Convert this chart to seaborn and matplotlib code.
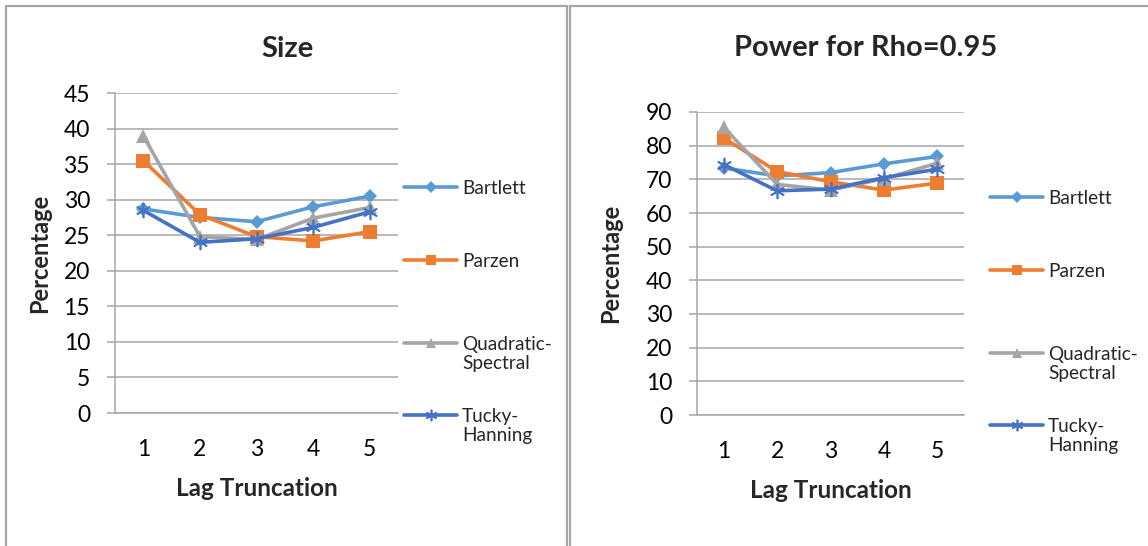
import matplotlib
matplotlib.use("Agg")
import matplotlib.pyplot as plt
from matplotlib.lines import Line2D
from matplotlib.patches import Rectangle
import seaborn as sns
import pandas as pd

sns.set_theme(style="white")
plt.rcParams['font.family'] = ['Lato', 'DejaVu Sans']

lags = [1, 2, 3, 4, 5]
series_names = ["Bartlett", "Parzen", "Quadratic-Spectral", "Tucky-Hanning"]
legend_labels = [["Bartlett"], ["Parzen"], ["Quadratic-", "Spectral"], ["Tucky-", "Hanning"]]

size_bartlett = [28.7, 27.5, 26.9, 29.0, 30.5]
size_parzen = [35.5, 27.9, 24.8, 24.2, 25.5]
size_qs = [39.0, 24.8, 24.4, 27.4, 28.9]
size_th = [28.5, 24.0, 24.5, 26.1, 28.3]

power_bartlett = [73.4, 71.0, 72.0, 74.6, 76.8]
power_parzen = [82.3, 72.3, 69.3, 66.8, 68.9]
power_qs = [85.5, 68.5, 66.8, 70.2, 74.8]
power_th = [74.4, 66.6, 67.1, 70.5, 73.0]

titles = ["Size", "Power for Rho=0.95"]
ymaxs = [45, 90]
ysteps = [5, 10]

colors = ["#5B9BD5", "#ED7D31", "#A5A5A5", "#4472C4"]
markers = ["D", "s", "^", (6, 2, 0)]
msizes = [7.5, 10, 10, 11]

W, H = 1148, 546
fig = plt.figure(figsize=(W / 100, H / 100), dpi=100)

def fx(px):
    return px / W

def fy(py):
    return 1 - py / H

# panel borders
panels = [(6, 567), (570, 1162)]
for (x0, x1) in panels:
    fig.patches.append(Rectangle((fx(x0), fy(600)), fx(x1 - x0), (600 - 6) / H,
                                 transform=fig.transFigure, fill=False,
                                 edgecolor="#a6a6a6", linewidth=1.6, zorder=0))

axes_px = [(115, 93, 398, 413), (697, 112, 964, 415)]
title_centers = [287, 866]
legend_px = [(404, [191, 264, 347, 419]), (990, [201, 274, 357, 429])]
data_sets = [
    [size_bartlett, size_parzen, size_qs, size_th],
    [power_bartlett, power_parzen, power_qs, power_th],
]
title_pads = [26, 40]
ylabel_pads = [9, 17]
grid_col = "#a6a6a6"

for k in range(2):
    x0, y0, x1, y1 = axes_px[k]
    ax = fig.add_axes([fx(x0), fy(y1), fx(x1 - x0), (y1 - y0) / H])
    for i, name in enumerate(series_names):
        df = pd.DataFrame({"lag": lags, "val": data_sets[k][i]})
        sns.lineplot(data=df, x="lag", y="val", ax=ax, color=colors[i],
                     marker=markers[i], markersize=msizes[i], linewidth=2.6,
                     markeredgecolor=colors[i], markeredgewidth=1.2 if i == 3 else 0,
                     label=name, legend=False)
    ax.set_xlim(0.5, 5.5)
    ax.set_ylim(0, ymaxs[k])
    ax.set_yticks(range(0, ymaxs[k] + 1, ysteps[k]))
    ax.set_xticks(lags)
    ax.set_xticklabels([str(v) for v in lags])
    ax.yaxis.grid(True, color=grid_col, linewidth=1.1)
    ax.set_axisbelow(True)
    for s in ["top", "right"]:
        ax.spines[s].set_visible(False)
    for s in ["left", "bottom"]:
        ax.spines[s].set_color(grid_col)
        ax.spines[s].set_linewidth(1.1)
    ax.tick_params(axis="y", length=6, width=1.1, color=grid_col, direction="out",
                   pad=12, labelsize=16.5, labelcolor="black", left=True)
    ax.tick_params(axis="x", length=0, pad=19, labelsize=16.5, labelcolor="black")
    tx = (title_centers[k] - x0) / (x1 - x0)
    ax.set_title(titles[k], fontsize=21, fontweight="bold", pad=title_pads[k], x=tx)
    ax.set_xlabel("Lag Truncation", fontsize=17.5, fontweight="bold", labelpad=12)
    ax.set_ylabel("Percentage", fontsize=17, fontweight="bold", labelpad=ylabel_pads[k])

    # legends: one per series, handle aligned with first line of label
    lx, lys = legend_px[k]
    for i in range(4):
        labs = legend_labels[i]
        hs = [Line2D([], [], color=colors[i], marker=markers[i],
                     markersize=msizes[i] * 0.75, linewidth=2.6,
                     markeredgecolor=colors[i],
                     markeredgewidth=1.2 if i == 3 else 0)]
        hs += [Line2D([], [], linestyle="none")] * (len(labs) - 1)
        fig.legend(hs, labs, loc="upper left",
                   bbox_to_anchor=(fx(lx), fy(lys[i] - 11)),
                   bbox_transform=fig.transFigure, frameon=False,
                   fontsize=13.7, handlelength=2.8, handletextpad=0.26,
                   borderpad=0, borderaxespad=0, labelspacing=0.12)

fig.savefig("out.png", dpi=100)
